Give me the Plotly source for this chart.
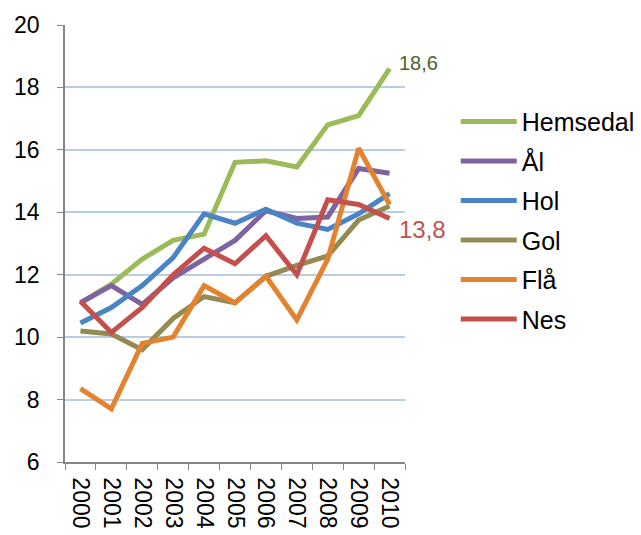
import plotly.graph_objects as go

years = ["2000", "2001", "2002", "2003", "2004", "2005", "2006", "2007", "2008", "2009", "2010"]
hemsedal = [11.1, 11.7, 12.5, 13.1, 13.3, 15.6, 15.65, 15.45, 16.8, 17.1, 18.6]
aal = [11.1, 11.65, 11.05, 11.9, 12.5, 13.1, 14.05, 13.8, 13.85, 15.4, 15.25]
hol = [10.45, 10.95, 11.65, 12.55, 13.95, 13.65, 14.1, 13.65, 13.45, 13.95, 14.6]
gol = [10.2, 10.1, 9.6, 10.6, 11.3, 11.1, 11.95, 12.3, 12.6, 13.75, 14.2]
flaa = [8.35, 7.7, 9.8, 10.0, 11.65, 11.1, 11.95, 10.55, 12.5, 16.05, 14.25]
nes = [11.15, 10.15, 10.95, 12.0, 12.85, 12.35, 13.25, 12.0, 14.4, 14.25, 13.8]

series_names = ["Hemsedal", "Ål", "Hol", "Gol", "Flå", "Nes"]
series_values = [hemsedal, aal, hol, gol, flaa, nes]
series_colors = ["#9BBB59", "#7F62A0", "#4A84C4", "#948A54", "#E3832F", "#C4504D"]

y_ticks = [6, 8, 10, 12, 14, 16, 18, 20]

fig = go.Figure()
for name, vals, col in zip(series_names, series_values, series_colors):
    fig.add_trace(go.Scatter(
        x=years, y=vals, name=name, mode="lines", legendgroup=name,
        line=dict(color=col, width=5),
    ))

last = len(years) - 1
fig.add_annotation(x=last, y=hemsedal[-1], text="18,6", showarrow=False,
                   xanchor="left", yanchor="middle", xshift=7, yshift=6,
                   font=dict(size=20, color="#4F6228"))
fig.add_annotation(x=last, y=nes[-1], text="13,8", showarrow=False,
                   xanchor="left", yanchor="middle", xshift=7, yshift=-11,
                   font=dict(size=24, color="#C4504D"))

fig.update_layout(
    width=633, height=527, autosize=False,
    margin=dict(l=57, r=236, t=17, b=73),
    paper_bgcolor="white", plot_bgcolor="white",
    font=dict(family="Liberation Sans, Arial, sans-serif", color="black"),
    showlegend=True,
    legend=dict(
        xref="container", yref="container",
        x=0.7073, y=0.828, xanchor="left", yanchor="top",
        font=dict(size=25, color="black"),
        tracegroupgap=4, itemwidth=56, bgcolor="rgba(0,0,0,0)",
    ),
    xaxis=dict(
        type="category", range=[-0.5, 10.5], tickangle=90,
        tickson="boundaries", ticks="outside", ticklen=6, tickcolor="#868686",
        showline=True, linecolor="#868686", linewidth=1.5, showgrid=False,
        tickfont=dict(size=23, color="black"), automargin=False,
        ticklabelstandoff=9,
    ),
    yaxis=dict(
        range=[6, 20], tickvals=y_ticks, ticktext=[str(v) for v in y_ticks],
        ticks="outside", ticklen=6, tickcolor="#868686",
        showline=True, linecolor="#868686", linewidth=1.5,
        showgrid=True, gridcolor="#B9CDE5", gridwidth=1.5,
        zeroline=False, tickfont=dict(size=23, color="black"),
        automargin=False, ticklabelstandoff=13,
    ),
)

fig.write_html("out.html")
